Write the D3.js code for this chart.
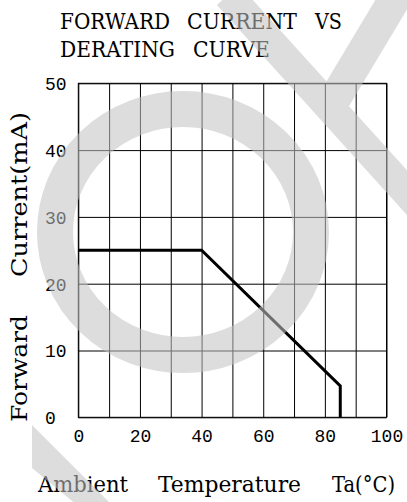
<!DOCTYPE html>
<html>
<head>
<meta charset="utf-8">
<script src="https://cdn.jsdelivr.net/npm/d3@7"></script>
<style>
  body { margin: 0; background: #fff; }
</style>
</head>
<body>
<div id="container"></div>
<script>
// derating curve
const temps = [0, 40, 85, 85];
const currents = [25, 25, 4.7, 0];

const xTicks = [0, 10, 20, 30, 40, 50, 60, 70, 80, 90, 100];
const yTicks = [0, 10, 20, 30, 40, 50];

const titleLines = [["FORWARD", "CURRENT", "VS"], ["DERATING", "CURVE"]];
const xLabelWords = ["Ambient", "Temperature", "Ta(°C)"];
const yLabelWords = ["Forward", "Current(mA)"];

const width = 407;
const height = 502;
const margins = { top: 83.3, bottom: 84.7, left: 78.3, right: 20.5 };

const serif = "'DejaVu Serif', serif";
const mono = "'Liberation Mono', monospace";

// word boxes (start, length), the source font is monospaced
const titleBoxes = [[[60, 110], [187, 110], [315, 27]], [[60, 115], [193, 77]]];
const xLabelBoxes = [[38, 90], [158, 143], [332, 63]];
const yLabelBoxes = [[422, 107], [277, 165]];

const xScale = d3.scaleLinear([0, 100], [margins.left, width - margins.right]);
const yScale = d3.scaleLinear([0, 50], [height - margins.bottom, margins.top]);

const svg = d3.select('#container')
  .append('svg')
  .attr('width', width)
  .attr('height', height)
  .attr('viewBox', [0, 0, width, height]);

// vertical grid + x tick labels
svg.append('g')
  .attr('transform', `translate(0, ${yScale(0)})`)
  .call(d3.axisBottom(xScale)
    .tickValues(xTicks)
    .tickSize(-(yScale(0) - yScale(50)))
    .tickFormat(d => d % 20 === 0 ? d : ''))
  .call(g => g.select('.domain').remove())
  .call(g => g.selectAll('line').attr('stroke', '#000').attr('stroke-width', 1))
  .call(g => g.selectAll('text')
    .attr('y', 24.7)
    .attr('dy', 0)
    .attr('fill', '#000')
    .attr('font-family', mono)
    .attr('font-size', 18));

// horizontal grid + y tick labels
svg.append('g')
  .attr('transform', `translate(${margins.left}, 0)`)
  .call(d3.axisLeft(yScale)
    .tickValues(yTicks)
    .tickSize(-(xScale(100) - xScale(0))))
  .call(g => g.select('.domain').remove())
  .call(g => g.selectAll('line').attr('stroke', '#000').attr('stroke-width', 1))
  .call(g => g.selectAll('text')
    .attr('x', 45 - margins.left)
    .attr('dy', '0.35em')
    .attr('text-anchor', 'start')
    .attr('fill', '#000')
    .attr('font-family', mono)
    .attr('font-size', 18));

// frame
svg.append('rect')
  .attr('x', xScale(0))
  .attr('y', yScale(50))
  .attr('width', xScale(100) - xScale(0))
  .attr('height', yScale(0) - yScale(50))
  .attr('fill', 'none')
  .attr('stroke', '#000')
  .attr('stroke-width', 1);

// curve
const line = d3.line()
  .x(i => xScale(temps[i]))
  .y(i => yScale(currents[i]));

svg.append('path')
  .attr('d', line(d3.range(temps.length)))
  .attr('fill', 'none')
  .attr('stroke', '#000')
  .attr('stroke-width', 3)
  .attr('stroke-linejoin', 'miter');

// title
titleLines.forEach((words, li) => {
  svg.append('g')
    .selectAll('text')
    .data(words)
    .join('text')
    .attr('x', (d, i) => titleBoxes[li][i][0])
    .attr('y', 29 + li * 28)
    .attr('font-family', serif)
    .attr('font-size', 22)
    .attr('textLength', (d, i) => titleBoxes[li][i][1])
    .attr('lengthAdjust', 'spacingAndGlyphs')
    .text(d => d);
});

// axis titles
svg.append('g')
  .selectAll('text')
  .data(xLabelWords)
  .join('text')
  .attr('x', (d, i) => xLabelBoxes[i][0])
  .attr('y', 492)
  .attr('font-family', serif)
  .attr('font-size', 22)
  .attr('textLength', (d, i) => xLabelBoxes[i][1])
  .attr('lengthAdjust', 'spacingAndGlyphs')
  .text(d => d);

svg.append('g')
  .selectAll('text')
  .data(yLabelWords)
  .join('text')
  .attr('transform', (d, i) => `translate(27, ${yLabelBoxes[i][0]}) rotate(-90)`)
  .attr('font-family', serif)
  .attr('font-size', 22)
  .attr('textLength', (d, i) => yLabelBoxes[i][1])
  .attr('lengthAdjust', 'spacingAndGlyphs')
  .text(d => d);

// watermark on top, semi transparent
const wm = svg.append('g')
  .attr('opacity', 0.56)
  .attr('fill', 'none')
  .attr('stroke', 'rgb(195,195,195)');

wm.append('ellipse')
  .attr('cx', 183)
  .attr('cy', 232)
  .attr('rx', 128)
  .attr('ry', 123)
  .attr('stroke-width', 36);

wm.append('line')
  .attr('x1', 228).attr('y1', -5)
  .attr('x2', 430).attr('y2', 218)
  .attr('stroke-width', 30);

wm.append('line')
  .attr('x1', 400).attr('y1', -10)
  .attr('x2', 334).attr('y2', 100)
  .attr('stroke-width', 32);

wm.append('polygon')
  .attr('points', '32,425 112,505 77,505 32,468')
  .attr('stroke', 'none')
  .attr('fill', 'rgb(195,195,195)');
</script>
</body>
</html>
